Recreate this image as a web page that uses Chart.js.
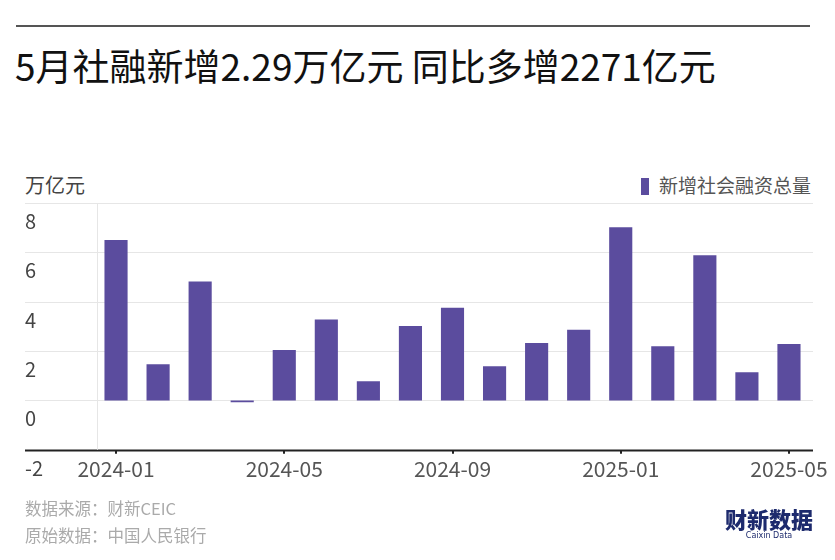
<!DOCTYPE html>
<html>
<head>
<meta charset="utf-8">
<script src="https://cdn.jsdelivr.net/npm/chart.js@4.4.1/dist/chart.umd.min.js"></script>
<style>
  html, body { margin: 0; padding: 0; background: #fff; }
  body { width: 835px; height: 560px; position: relative; overflow: hidden;
         font-family: "Noto Sans CJK SC", "Noto Sans", sans-serif; }
  #chart { position: absolute; left: 0; top: 0; }
  .rule { position: absolute; left: 16px; top: 25px; width: 794px; height: 0; border-top: 2px solid #555; }
  .title { position: absolute; left: 15px; top: 39px; font-size: 37px; font-weight: 400; color: #111; white-space: nowrap; line-height: 52px; }
  .unit { position: absolute; left: 25px; top: 172px; font-size: 20px; color: #444; line-height: 26px; }
  .legend { position: absolute; right: 24px; top: 172px; font-size: 19px; color: #555; line-height: 26px; white-space: nowrap; }
  .legend i { display: inline-block; width: 8px; height: 17px; background: #5b4c9e; margin-right: 10px; vertical-align: -2px; }
  .foot { position: absolute; left: 25px; font-size: 16.5px; color: #aaa; line-height: 22px; }
  .logo { position: absolute; left: 722px; top: 505px; width: 94px; text-align: center; color: #1d2a6d; }
  .logo b { display: block; font-size: 22px; font-weight: 900; letter-spacing: 0px; line-height: 26px; }
  .logo span { display: block; font-size: 8px; font-family: "DejaVu Sans", sans-serif; line-height: 10px; }
</style>
</head>
<body>
<div class="rule"></div>
<div class="title">5月社融新增2.29万亿元 同比多增2271亿元</div>
<div class="unit">万亿元</div>
<div class="legend"><i></i>新增社会融资总量</div>
<canvas id="chart" width="835" height="560"></canvas>
<div class="foot" style="top:497px">数据来源：财新CEIC</div>
<div class="foot" style="top:524px">原始数据：中国人民银行</div>
<div class="logo"><b>财新数据</b><span>Caixin Data</span></div>
<script>
const months = ['2024-01', '2024-02', '2024-03', '2024-04', '2024-05', '2024-06', '2024-07', '2024-08',
  '2024-09', '2024-10', '2024-11', '2024-12', '2025-01', '2025-02', '2025-03', '2025-04', '2025-05'];
const newFinancing = [6.5, 1.47, 4.82, -0.07, 2.04, 3.28, 0.78, 3.02, 3.76, 1.39, 2.33, 2.86, 7.02, 2.2, 5.88, 1.14, 2.29];
const yTicks = [8, 6, 4, 2, 0, -2];

const barColor = '#5b4c9e';

// grid lines + y labels sit below each line, drawn by hand so they can run past the axis
const gridPlugin = {
  id: 'gridPlugin',
  beforeDatasetsDraw(chart) {
    const { ctx, chartArea, scales } = chart;
    const y = scales.y;
    ctx.save();
    yTicks.forEach(v => {
      const py = Math.round(y.getPixelForValue(v)) + 0.5;
      ctx.beginPath();
      if (v === -2) {
        ctx.strokeStyle = '#222';
        ctx.lineWidth = 2;
      } else {
        ctx.strokeStyle = '#e6e6e6';
        ctx.lineWidth = 1;
      }
      ctx.moveTo(25, py);
      ctx.lineTo(chartArea.right + 3, py);
      ctx.stroke();
      ctx.fillStyle = '#444';
      ctx.font = '20px "Noto Sans CJK SC", "Noto Sans", sans-serif';
      ctx.textBaseline = 'middle';
      ctx.textAlign = 'left';
      ctx.fillText(String(v), 25, py + 18);
    });
    ctx.beginPath();
    ctx.strokeStyle = '#e6e6e6';
    ctx.lineWidth = 1;
    ctx.moveTo(chartArea.left + 2.5, y.getPixelForValue(8));
    ctx.lineTo(chartArea.left + 2.5, y.getPixelForValue(-2));
    ctx.stroke();
    ctx.restore();
  }
};

new Chart(document.getElementById('chart'), {
  type: 'bar',
  data: {
    labels: months,
    datasets: [{
      label: '新增社会融资总量',
      data: newFinancing,
      backgroundColor: barColor,
      barPercentage: 0.55,
      categoryPercentage: 1
    }]
  },
  options: {
    responsive: false,
    animation: false,
    layout: { padding: { left: 95, right: 25, top: 203, bottom: 75 } },
    plugins: { legend: { display: false }, tooltip: { enabled: false } },
    scales: {
      y: { display: false, min: -2, max: 8 },
      x: {
        border: { display: false },
        grid: {
          offset: false,
          drawOnChartArea: false,
          drawTicks: true,
          tickLength: 4,
          lineWidth: 2,
          color: c => (c.index % 4 === 0 ? '#222' : 'transparent')
        },
        ticks: {
          autoSkip: false,
          maxRotation: 0,
          padding: 3,
          color: '#555',
          font: { size: 21, family: '"Noto Sans CJK SC", "Noto Sans", sans-serif' },
          callback: (v, i) => (i % 4 === 0 ? months[i] : '')
        }
      }
    }
  },
  plugins: [gridPlugin]
});
</script>
</body>
</html>
